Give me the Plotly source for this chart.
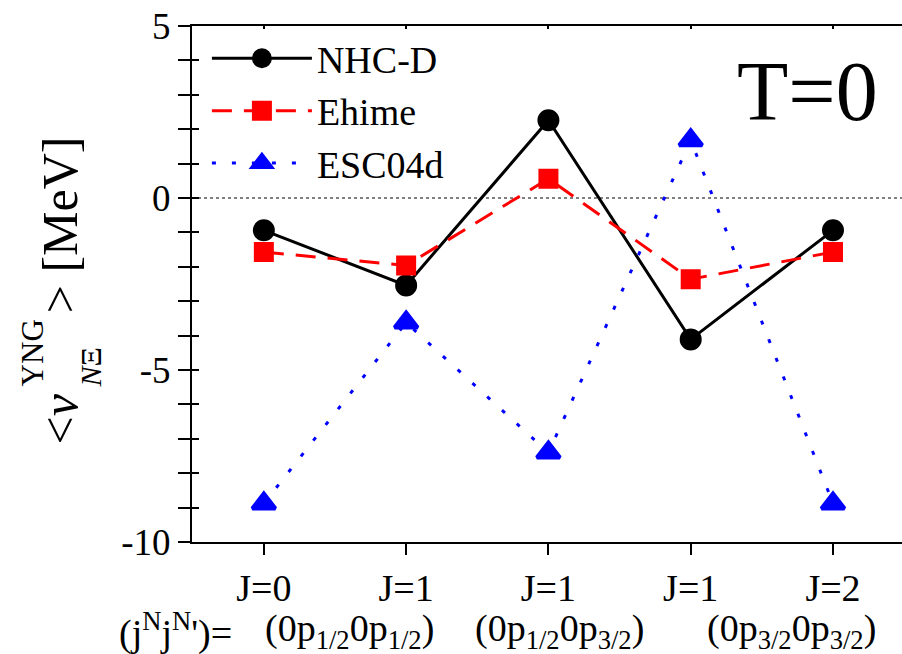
import plotly.graph_objects as go

# ---- data ----
x_pos = [0, 1, 2, 3, 4]
j_labels = ["J=0", "J=1", "J=1", "J=1", "J=2"]
pair_labels = ["(0p<sub>1/2</sub>0p<sub>1/2</sub>)",
               "(0p<sub>1/2</sub>0p<sub>3/2</sub>)",
               "(0p<sub>3/2</sub>0p<sub>3/2</sub>)"]
pair_pos = [0.6, 2.08, 3.71]
nhcd = [-0.94, -2.54, 2.26, -4.11, -0.94]
ehime = [-1.57, -1.96, 0.56, -2.36, -1.57]
esc04d = [-8.88, -3.62, -7.40, 1.68, -8.88]

FONT = "Liberation Serif"
XR = [-0.505, 4.485]
YR = [-10, 5]

fig = go.Figure()
fig.add_trace(go.Scatter(x=x_pos, y=nhcd, name="NHC-D", mode="lines+markers",
                         line=dict(color="black", width=3),
                         marker=dict(symbol="circle", size=18, color="black",
                                     line=dict(color="black", width=4))))
fig.add_trace(go.Scatter(x=x_pos, y=ehime, name="Ehime", mode="lines+markers",
                         line=dict(color="#ff0000", width=3, dash="20px,12px"),
                         marker=dict(symbol="square", size=16, color="#ff0000",
                                     line=dict(color="#ff0000", width=4))))
fig.add_trace(go.Scatter(x=x_pos, y=esc04d, name="ESC04d", mode="lines+markers",
                         line=dict(color="#0000ff", width=3, dash="4px,16px"),
                         marker=dict(symbol="triangle-up", size=20, color="#0000ff",
                                     line=dict(color="#0000ff", width=4))))

# dotted zero reference line
fig.add_shape(type="line", xref="paper", x0=0, x1=1, yref="y", y0=0, y1=0,
              line=dict(color="black", width=1, dash="dot"), layer="below")

fig.update_layout(
    width=902, height=654,
    margin=dict(l=192, r=0, t=26, b=112),
    plot_bgcolor="white", paper_bgcolor="white",
    font=dict(family=FONT, color="black"),
    showlegend=True,
    legend=dict(x=0.021, y=0.998, xanchor="left", yanchor="top",
                bgcolor="rgba(0,0,0,0)", font=dict(size=38, family=FONT),
                itemwidth=100, tracegroupgap=0),
    xaxis=dict(range=XR, tickmode="array", tickvals=x_pos, ticktext=j_labels,
               showline=True, linecolor="black", linewidth=2, mirror=True,
               ticks="outside", ticklen=11, tickwidth=2, tickcolor="black",
               showgrid=False, zeroline=False, tickfont=dict(size=38, family=FONT)),
    xaxis2=dict(range=XR, overlaying="x", side="top", tickvals=x_pos,
                showticklabels=False, ticks="inside", ticklen=3, tickwidth=2, tickcolor="black",
                showgrid=False, zeroline=False, showline=False),
    yaxis=dict(range=YR, tickvals=[5, 0, -5, -10], ticktext=["5", "0", "-5", "-10"],
               showline=True, linecolor="black", linewidth=2,
               ticks="outside", ticklen=12, tickwidth=2, tickcolor="black",
               minor=dict(dtick=1, ticks="outside", ticklen=12, tickwidth=2, tickcolor="black"),
               showgrid=False, zeroline=False, tickfont=dict(size=37, family=FONT)),
    yaxis2=dict(range=YR, overlaying="y", side="left", tickvals=[5, 0, -5, -10],
                showticklabels=False, ticks="inside", ticklen=7, tickwidth=2, tickcolor="black",
                minor=dict(dtick=1, ticks="inside", ticklen=7, tickwidth=2, tickcolor="black"),
                showgrid=False, zeroline=False, showline=False),
)

# invisible trace to activate the overlay axes (inner ticks)
fig.add_trace(go.Scatter(x=[x_pos[0]], y=[nhcd[0]], xaxis="x2", yaxis="y2", mode="markers",
                         marker=dict(opacity=0), showlegend=False, hoverinfo="skip"))

def px_to_paper(px, py):
    return (px - 192) / 710, (541.5 - py) / 515.7

# T=0 label
tx, ty = px_to_paper(880, 91)
fig.add_annotation(text="T=0", xref="paper", yref="paper", x=tx, y=ty,
                   xanchor="right", yanchor="middle", showarrow=False,
                   font=dict(size=84, family=FONT))

# second row of x labels
for lab, xp in zip(pair_labels, pair_pos):
    fig.add_annotation(text=lab, xref="x", yref="paper", x=xp, y=px_to_paper(0, 630)[1],
                       xanchor="center", yanchor="middle", showarrow=False,
                       font=dict(size=38, family=FONT))
lx, ly = px_to_paper(175, 630)
fig.add_annotation(text="(j<sup>N</sup>j<sup>N</sup>')=", xref="paper", yref="paper",
                   x=lx, y=ly, xanchor="center", yanchor="middle", showarrow=False,
                   font=dict(size=38, family=FONT))

# y-axis title pieces (rotated)
ax, ay = px_to_paper(60, 419)
fig.add_annotation(text="&lt;<i>v</i>", xref="paper", yref="paper", x=ax, y=ay,
                   textangle=-90, showarrow=False, xanchor="center", yanchor="middle",
                   font=dict(size=50, family=FONT))
bx, by = px_to_paper(32, 353)
fig.add_annotation(text="YNG", xref="paper", yref="paper", x=bx, y=by,
                   textangle=-90, showarrow=False, xanchor="center", yanchor="middle",
                   font=dict(size=31, family=FONT))
cx, cy = px_to_paper(90, 367)
fig.add_annotation(text="<i>N</i>Ξ", xref="paper", yref="paper", x=cx, y=cy,
                   textangle=-90, showarrow=False, xanchor="center", yanchor="middle",
                   font=dict(size=30, family=FONT))
dx, dy = px_to_paper(60, 225)
fig.add_annotation(text="&gt; [MeV]", xref="paper", yref="paper", x=dx, y=dy,
                   textangle=-90, showarrow=False, xanchor="center", yanchor="middle",
                   font=dict(size=50, family=FONT))

fig.write_html("out.html", config={"displayModeBar": False},
               post_script="document.body.style.margin='0';")
